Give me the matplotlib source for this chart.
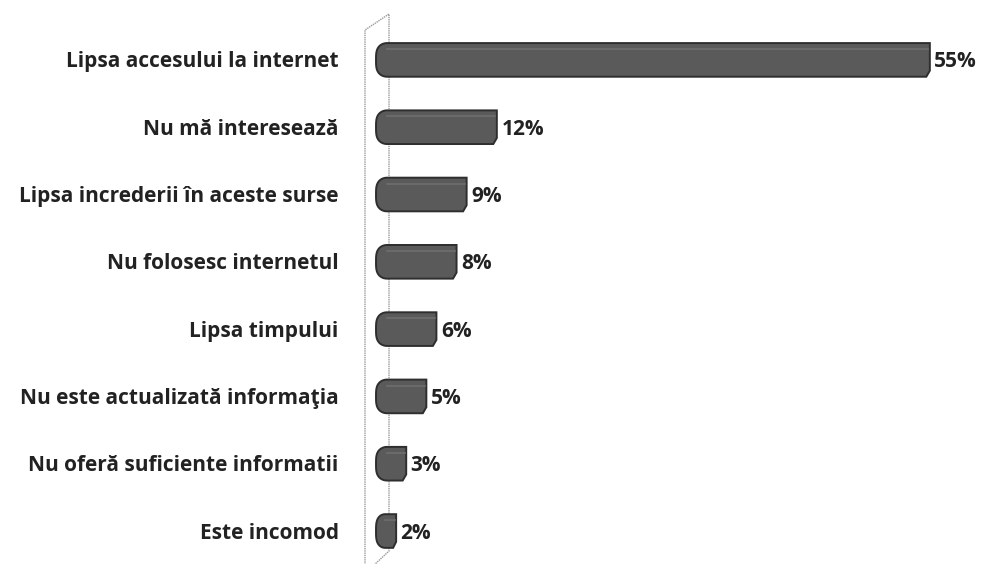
import matplotlib
matplotlib.use("Agg")
import numpy as np
import matplotlib.pyplot as plt
from matplotlib.patches import Polygon

categories = [
    "Lipsa accesului la internet",
    "Nu mă interesează",
    "Lipsa increderii în aceste surse",
    "Nu folosesc internetul",
    "Lipsa timpului",
    "Nu este actualizată informaţia",
    "Nu oferă suficiente informatii",
    "Este incomod",
]
values = [55, 12, 9, 8, 6, 5, 3, 2]
value_labels = [f"{v}%" for v in values]

plt.rcParams['font.family'] = ['Open Sans', 'DejaVu Sans']

W, H = 985, 564
fig = plt.figure(figsize=(W / 100, H / 100), dpi=100)
px_per_unit = 10.07
x0_px = 376
xmin = -2.0
left = (x0_px + xmin * px_per_unit) / W
xmax = (W - x0_px) / px_per_unit
ax = fig.add_axes([left, 0, 1 - left, 1])
ax.set_xlim(xmin, xmax)
ax.set_ylim(7.49, -0.89)
ax.axis('off')

ypos = list(range(len(categories)))
bars = ax.barh(ypos, values, height=0.5, color='none', edgecolor='none')

# cylinder-like bar shapes built from each bar's geometry
for b in bars:
    x, y, w, h = b.get_x(), b.get_y(), b.get_width(), b.get_height()
    rx = min(1.1, w * 0.45)
    cy = y + h / 2
    t = np.linspace(np.pi / 2, 3 * np.pi / 2, 40)
    arc_x = x + rx + rx * np.cos(t)
    arc_y = cy - (h / 2) * np.sign(np.sin(t)) * np.abs(np.sin(t)) ** 0.6
    ch_x = min(0.35, w * 0.15)
    ch_y = h * 0.18
    pts = [(x + rx, y)] + list(zip(arc_x, arc_y)) + [(x + rx, y + h), (x + w - ch_x, y + h),
                                                     (x + w, y + h - ch_y), (x + w, y)]
    poly = Polygon(pts, closed=True, facecolor='#5a5a5a', edgecolor='#2e2e2e',
                   linewidth=1.4, zorder=3)
    ax.add_patch(poly)
    ax.plot([x + rx, x + w - 0.15], [y + h * 0.18, y + h * 0.18], color='#6e6e6e',
            lw=1.2, zorder=4)

for yi, v, lab in zip(ypos, values, value_labels):
    ax.text(v + 0.45, yi + 0.03, lab, ha='left', va='center', fontsize=15,
            fontweight='bold', color='#222222', zorder=5)

for yi, cat in zip(ypos, categories):
    ax.text(-3.7, yi + 0.03, cat, ha='right', va='center', fontsize=15,
            fontweight='bold', color='#222222', zorder=5, clip_on=False)

# back wall outline (3D)
def px2data(xp, yp):
    return ax.transData.inverted().transform(fig.transFigure.transform((xp / W, 1 - yp / H)))

wall_pts = [px2data(365, 566), px2data(365, 30), px2data(389, 14),
            px2data(389, 551), px2data(373, 566)]
wall = Polygon(wall_pts, closed=False, fill=False, edgecolor='#9a9a9a',
               linewidth=1.0, linestyle=(0, (1, 0.6)), zorder=1, clip_on=False)
ax.add_patch(wall)

fig.savefig("out.png", dpi=100, facecolor='white')
